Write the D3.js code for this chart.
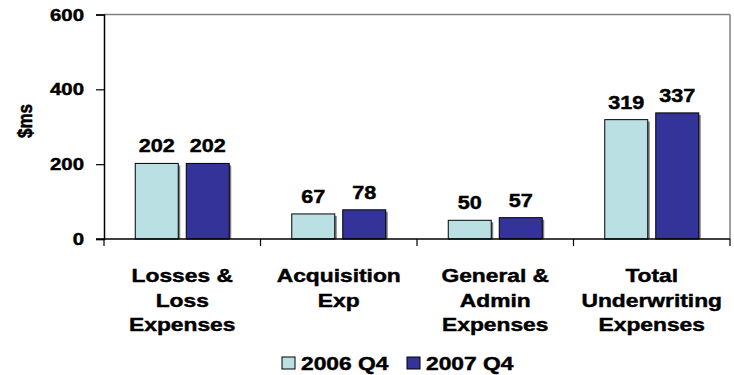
<!DOCTYPE html>
<html>
<head>
<meta charset="utf-8">
<script src="https://cdn.jsdelivr.net/npm/d3@7"></script>
<style>
  html, body { margin: 0; padding: 0; background: #fff; }
  svg { display: block; font-family: "Liberation Sans", Arial, sans-serif; font-weight: bold; }
  svg text { fill: #000; stroke: #000; stroke-width: 0.45px; }
</style>
</head>
<body>
<svg id="chart" width="734" height="375"></svg>
<script>
// Underwriting expense breakdown, Q4 2006 vs Q4 2007 ($ millions)
const categories = [
  ["Losses &", "Loss", "Expenses"],
  ["Acquisition", "Exp"],
  ["General &", "Admin", "Expenses"],
  ["Total", "Underwriting", "Expenses"]
];
const series = ["2006 Q4", "2007 Q4"];
const values2006 = [202, 67, 50, 319];
const values2007 = [202, 78, 57, 337];
const yTicks = [0, 200, 400, 600];
const colors = ["#BBE0E3", "#333399"];

const svg = d3.select("#chart");
const plot = { left: 104, right: 730, top: 14.5, bottom: 239 };
const SX = 1.2; // horizontal stretch applied to text glyphs

const catIdx = categories.map((_, i) => i);
const x0 = d3.scaleBand().domain(catIdx).range([plot.left, plot.right]).paddingInner(0).paddingOuter(0);
const x1 = d3.scaleBand().domain(series).range([0, x0.bandwidth()])
  .paddingInner(8 / 51).paddingOuter(0.613);
const y = d3.scaleLinear().domain([0, 600]).range([plot.bottom, plot.top]);

const valuesBySeries = [values2006, values2007];

function stretchedText(sel, x, yy, anchor) {
  return sel.attr("transform", `translate(${x},${yy}) scale(${SX},1)`)
    .attr("text-anchor", anchor);
}

// frame: top and right borders in grey
svg.append("line").attr("x1", plot.left).attr("x2", plot.right)
  .attr("y1", plot.top).attr("y2", plot.top).attr("stroke", "#808080").attr("stroke-width", 1.5);
svg.append("line").attr("x1", plot.right).attr("x2", plot.right)
  .attr("y1", plot.top).attr("y2", plot.bottom).attr("stroke", "#808080").attr("stroke-width", 1.5);

// bars
catIdx.forEach(ci => {
  series.forEach((s, si) => {
    const v = valuesBySeries[si][ci];
    const bx = x0(ci) + x1(s);
    const by = y(v);
    const bw = x1.bandwidth();
    const bh = y(0) - by;
    // soft drop shadow
    svg.append("rect").attr("x", bx + 2).attr("y", by + 2).attr("width", bw).attr("height", bh - 2)
      .attr("fill", "#7f7f7f");
    svg.append("rect").attr("x", bx).attr("y", by).attr("width", bw).attr("height", bh)
      .attr("fill", colors[si]).attr("stroke", "#000").attr("stroke-width", 1);
    stretchedText(svg.append("text"), bx + bw / 2, by - 11, "middle")
      .attr("font-size", 18).text(v);
  });
});

// y axis
const yAxis = svg.append("g").attr("transform", `translate(${plot.left},0)`)
  .call(d3.axisLeft(y).tickValues(yTicks).tickSize(8).tickFormat(""));
yAxis.select(".domain").attr("stroke", "#000").attr("stroke-width", 1.5);
yAxis.selectAll(".tick line").attr("stroke", "#000").attr("stroke-width", 1.2);
yTicks.forEach(t => {
  stretchedText(svg.append("text"), 84, y(t) + 6, "end")
    .attr("font-size", 17).text(t);
});

// x axis with ticks at category boundaries
const boundaries = catIdx.map(i => x0(i)).concat([plot.right]);
svg.append("line").attr("x1", plot.left - 8).attr("x2", plot.right)
  .attr("y1", plot.bottom).attr("y2", plot.bottom).attr("stroke", "#000").attr("stroke-width", 1.5);
boundaries.forEach(bx => {
  svg.append("line").attr("x1", bx).attr("x2", bx).attr("y1", plot.bottom).attr("y2", plot.bottom + 7)
    .attr("stroke", "#000").attr("stroke-width", 1.2);
});

// category labels
catIdx.forEach(ci => {
  const cx = x0(ci) + x0.bandwidth() / 2;
  categories[ci].forEach((line, li) => {
    stretchedText(svg.append("text"), cx, 282 + li * 24.5, "middle")
      .attr("font-size", 19).text(line);
  });
});

// y axis title
svg.append("text")
  .attr("transform", "translate(32,121) rotate(-90) scale(1,1.15)")
  .attr("text-anchor", "middle").attr("font-size", 17).text("$ms");

// legend
const legendItems = [
  { sq: 282, tx: 301 },
  { sq: 407, tx: 426 }
];
series.forEach((s, si) => {
  svg.append("rect").attr("x", legendItems[si].sq).attr("y", 357).attr("width", 13).attr("height", 12)
    .attr("fill", colors[si]).attr("stroke", "#000").attr("stroke-width", 1);
  stretchedText(svg.append("text"), legendItems[si].tx, 370, "start")
    .attr("font-size", 19).text(s);
});
</script>
</body>
</html>
